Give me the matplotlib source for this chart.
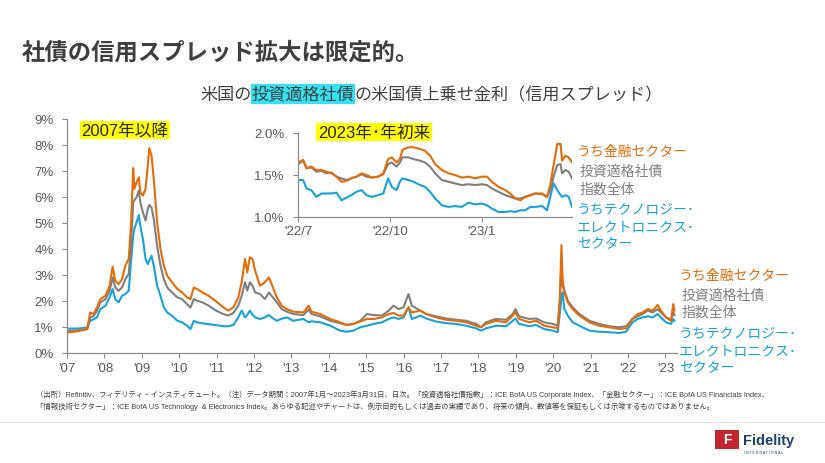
import matplotlib
matplotlib.use('Agg')
import matplotlib.pyplot as plt
from matplotlib.patches import Rectangle
from matplotlib.lines import Line2D

plt.rcParams['font.family'] = ['Liberation Sans', 'Noto Sans CJK JP']

# ---- data: spreads vs US Treasuries (%) ----
years_main = [
    2007.0, 2007.27, 2007.54, 2007.62, 2007.71, 2007.8, 2007.89, 2008.03, 2008.14, 2008.22,
    2008.29, 2008.38, 2008.47, 2008.56, 2008.65, 2008.71, 2008.77, 2008.80, 2008.86, 2008.92,
    2008.96, 2009.03, 2009.1, 2009.16, 2009.2, 2009.26, 2009.32, 2009.41, 2009.5, 2009.59,
    2009.68, 2009.81, 2009.95, 2010.08, 2010.21, 2010.3, 2010.39, 2010.48, 2010.62, 2010.79,
    2011.0, 2011.18, 2011.31, 2011.45, 2011.58, 2011.67, 2011.76, 2011.82, 2011.89, 2011.96,
    2012.03, 2012.16, 2012.29, 2012.4, 2012.47, 2012.61, 2012.74, 2012.88, 2013.05, 2013.32,
    2013.46, 2013.54, 2013.77, 2014.04, 2014.3, 2014.48, 2014.66, 2014.84, 2015.02, 2015.2,
    2015.42, 2015.6, 2015.73, 2015.87, 2016.0, 2016.13, 2016.22, 2016.45,
    2016.6, 2016.87, 2017.13, 2017.4, 2017.67, 2017.94, 2018.07, 2018.2, 2018.47, 2018.74,
    2018.92, 2018.99, 2019.09, 2019.36, 2019.54, 2019.76, 2019.99, 2020.12, 2020.18, 2020.22,
    2020.25, 2020.3, 2020.39, 2020.52, 2020.7, 2020.97, 2021.23, 2021.5, 2021.77, 2021.95,
    2022.12, 2022.26, 2022.39, 2022.53, 2022.66, 2022.79, 2022.88, 2023.02, 2023.15, 2023.21,
    2023.24,
]
financials = [
    0.77, 0.81, 0.9, 1.54, 1.48, 1.73, 2.05, 2.18, 2.57, 3.3,
    2.76, 2.63, 2.82, 3.34, 3.6, 4.88, 7.09, 6.29, 6.55, 6.74,
    6.16, 6.03, 6.29, 7.19, 7.86, 7.57, 6.68, 5.0, 3.98, 3.34,
    2.95, 2.7, 2.44, 2.31, 2.12, 2.05, 2.5, 2.44, 2.31, 2.18,
    1.95, 1.74, 1.61, 1.74, 2.12, 2.70, 3.6, 3.08, 3.66, 3.6,
    3.15, 2.57, 2.70, 2.89, 2.63, 2.12, 1.8, 1.67, 1.57, 1.54,
    1.8, 1.57, 1.48, 1.29, 1.16, 1.06, 1.1, 1.19, 1.29, 1.29,
    1.35, 1.48, 1.52, 1.42, 1.42, 1.74, 1.54, 1.61,
    1.48, 1.35, 1.26, 1.22, 1.16, 1.03, 0.97, 1.1, 1.22, 1.16,
    1.42, 1.54, 1.29, 1.16, 1.22, 1.03, 0.97, 0.93, 2.19, 4.13,
    2.83, 2.31, 1.93, 1.67, 1.42, 1.16, 1.03, 0.97, 0.9, 0.93,
    1.29, 1.48, 1.54, 1.67, 1.61, 1.83, 1.61, 1.35, 1.22, 1.86,
    1.61,
]
ig_index = [
    0.83, 0.85, 0.9, 1.35, 1.4, 1.6, 1.93, 2.05, 2.37, 2.89,
    2.5, 2.37, 2.5, 2.82, 3.02, 4.1, 5.78, 5.85, 5.97, 6.23,
    5.78, 5.39, 5.07, 5.52, 5.67, 5.58, 5.13, 4.1, 3.34, 2.82,
    2.5, 2.31, 2.12, 2.05, 1.86, 1.73, 2.05, 1.99, 1.93, 1.8,
    1.6, 1.48, 1.42, 1.52, 1.8, 2.18, 2.70, 2.38, 2.70, 2.57,
    2.31, 2.25, 2.06, 2.31, 2.18, 1.93, 1.67, 1.57, 1.48, 1.44,
    1.65, 1.48, 1.39, 1.22, 1.13, 1.06, 1.1, 1.22, 1.48, 1.44,
    1.42, 1.61, 1.8, 1.67, 1.74, 2.25, 1.8, 1.61,
    1.48, 1.39, 1.31, 1.26, 1.22, 1.1, 0.97, 1.16, 1.29, 1.26,
    1.48, 1.67, 1.39, 1.29, 1.31, 1.16, 1.1, 1.03, 1.93, 3.5,
    2.57, 2.38, 1.99, 1.74, 1.48, 1.22, 1.1, 1.01, 0.97, 1.01,
    1.29, 1.39, 1.48, 1.61, 1.54, 1.67, 1.54, 1.35, 1.26, 1.54,
    1.44,
]
tech = [
    0.92, 0.92, 0.96, 1.22, 1.28, 1.35, 1.67, 1.8, 2.12, 2.44,
    2.05, 1.93, 2.18, 2.25, 2.37, 3.47, 4.49, 4.75, 5.0, 5.29,
    4.88, 4.36, 3.59, 3.4, 3.53, 3.72, 3.34, 2.57, 2.18, 1.73,
    1.54, 1.41, 1.22, 1.16, 1.03, 0.9, 1.22, 1.16, 1.12, 1.09,
    1.05, 1.01, 1.01, 1.06, 1.35, 1.61, 1.35, 1.45, 1.61, 1.45,
    1.35, 1.29, 1.35, 1.44, 1.35, 1.22, 1.3, 1.35, 1.22, 1.29,
    1.16, 1.2, 1.16, 1.03, 0.84, 0.8, 0.84, 0.97, 1.03, 1.1,
    1.16, 1.29, 1.35, 1.29, 1.35, 1.74, 1.29, 1.42,
    1.31, 1.19, 1.13, 1.1, 1.03, 0.93, 0.84, 0.93, 1.03, 1.01,
    1.22, 1.31, 1.1, 1.01, 1.06, 0.9, 0.84, 0.78, 1.54, 2.1,
    2.31, 1.67, 1.42, 1.16, 1.03, 0.84, 0.8, 0.78, 0.75, 0.8,
    1.16, 1.29, 1.35, 1.39, 1.35, 1.48, 1.35, 1.16, 1.1, 1.29,
    1.22,
]

# inset: 2022/7 - 2023/3
years_inset = [
    2022.500, 2022.514, 2022.523, 2022.536, 2022.550, 2022.564, 2022.577, 2022.591, 2022.605, 2022.618,
    2022.632, 2022.645, 2022.659, 2022.673, 2022.686, 2022.700, 2022.718, 2022.732, 2022.745, 2022.755,
    2022.768, 2022.777, 2022.784, 2022.800, 2022.814, 2022.832, 2022.845, 2022.859, 2022.873, 2022.891,
    2022.909, 2022.927, 2022.945, 2022.964, 2022.982, 2023.000, 2023.014, 2023.027, 2023.045, 2023.064,
    2023.077, 2023.091, 2023.105, 2023.118, 2023.132, 2023.145, 2023.164, 2023.177, 2023.186, 2023.195,
    2023.205, 2023.214, 2023.218, 2023.227, 2023.236, 2023.245,
]
fin_inset = [
    1.65, 1.68, 1.58, 1.6, 1.56, 1.56, 1.54, 1.52, 1.48, 1.42,
    1.43, 1.46, 1.48, 1.52, 1.5, 1.47, 1.48, 1.52, 1.69, 1.71,
    1.65, 1.69, 1.8, 1.83, 1.83, 1.81, 1.79, 1.73, 1.63, 1.56,
    1.52, 1.5, 1.47, 1.48, 1.46, 1.48, 1.48, 1.42, 1.36, 1.32,
    1.28, 1.22, 1.2, 1.24, 1.26, 1.28, 1.28, 1.24, 1.38, 1.62,
    1.87, 1.87, 1.67, 1.73, 1.71, 1.65,
]
ig_inset = [
    1.63, 1.67, 1.58, 1.59, 1.54, 1.55, 1.52, 1.53, 1.48, 1.46,
    1.44, 1.46, 1.48, 1.51, 1.48, 1.47, 1.48, 1.51, 1.63, 1.65,
    1.6, 1.65, 1.71, 1.71, 1.69, 1.67, 1.65, 1.6, 1.52, 1.44,
    1.42, 1.4, 1.38, 1.39, 1.38, 1.39, 1.38, 1.34, 1.3, 1.26,
    1.24, 1.22, 1.22, 1.24, 1.26, 1.28, 1.27, 1.24, 1.32, 1.48,
    1.62, 1.63, 1.52, 1.56, 1.54, 1.46,
]
tech_inset = [
    1.44, 1.44, 1.34, 1.32, 1.24, 1.28, 1.28, 1.28, 1.29, 1.2,
    1.23, 1.26, 1.3, 1.32, 1.26, 1.24, 1.26, 1.28, 1.46, 1.36,
    1.32, 1.42, 1.46, 1.44, 1.42, 1.38, 1.36, 1.3, 1.22, 1.14,
    1.12, 1.13, 1.12, 1.17, 1.15, 1.16, 1.14, 1.1, 1.06, 1.06,
    1.07, 1.06, 1.08, 1.08, 1.12, 1.12, 1.13, 1.08, 1.24, 1.4,
    1.32, 1.26, 1.24, 1.26, 1.24, 1.12,
]

main_ticks = list(range(2007, 2024))
main_ticklabels = ["'%02d" % (y % 100) for y in main_ticks]
inset_ticks = [2022.5, 2022.75, 2023.0]
inset_ticklabels = ["'22/7", "'22/10", "'23/1"]

ORANGE = '#E46C0A'
GRAY = '#7F7F7F'
BLUE = '#17A2DB'
TXT = '#404040'
AX = '#8C8C8C'

W, H = 825, 464


def fx(px):
    return px / W


def fy(py):
    return 1 - py / H


fig = plt.figure(figsize=(8.25, 4.64), dpi=100)
fig.patch.set_facecolor('white')


def style_axes(ax):
    for s in ['top', 'right']:
        ax.spines[s].set_visible(False)
    for s in ['left', 'bottom']:
        ax.spines[s].set_color(AX)
        ax.spines[s].set_linewidth(0.9)
    ax.tick_params(direction='out', length=3.5, width=0.8, color=AX,
                   labelcolor='#595959', labelsize=9.5)
    ax.set_facecolor('none')


# main chart
ax = fig.add_axes([fx(67), fy(353.5), 610 / W, 234 / H])
ax.plot(years_main, tech, color=BLUE, lw=1.5)
ax.plot(years_main, ig_index, color=GRAY, lw=1.5)
ax.plot(years_main, financials, color=ORANGE, lw=1.5)
ax.set_xlim(2007, 2023.31)
ax.set_ylim(0, 9)
ax.set_yticks(range(0, 10))
ax.set_yticklabels(['%d%%' % v for v in range(0, 10)])
ax.set_xticks(main_ticks)
ax.set_xticklabels(main_ticklabels)
style_axes(ax)
ax.tick_params(axis='y', pad=6)
ax.tick_params(axis='x', pad=3)

# inset chart
axi = fig.add_axes([fx(298), fy(218), 274 / W, 84 / H])
axi.plot(years_inset, tech_inset, color=BLUE, lw=1.5)
axi.plot(years_inset, ig_inset, color=GRAY, lw=1.5)
axi.plot(years_inset, fin_inset, color=ORANGE, lw=1.5)
axi.set_xlim(2022.5, 2023.245)
axi.set_ylim(1.0, 2.0)
axi.set_yticks([1.0, 1.5, 2.0])
axi.set_yticklabels(['1.0%', '1.5%', '2.0%'])
axi.set_xticks(inset_ticks)
axi.set_xticklabels(inset_ticklabels)
style_axes(axi)
axi.tick_params(axis='y', pad=6)
axi.tick_params(axis='x', pad=2)

# titles
fig.text(fx(22), fy(53), '社債の信用スプレッド拡大は限定的。', fontsize=16.8,
         fontweight='bold', color='#3F3F3F', va='center', ha='left',
         family=['Noto Sans CJK JP'])

sub_kw = dict(fontsize=12.3, color=TXT, va='center', family=['Noto Sans CJK JP'])
t1 = fig.text(fx(200), fy(95), '米国の', ha='left', **sub_kw)
t2 = ax.annotate('投資適格社債', xy=(1, 0.5), xycoords=t1, ha='left',
                 bbox=dict(boxstyle='square,pad=0.05', fc='#33E3F3', ec='none'),
                 annotation_clip=False, **sub_kw)
ax.annotate('の米国債上乗せ金利（信用スプレッド）', xy=(1, 0.5), xycoords=t2,
            ha='left', annotation_clip=False, **sub_kw)

# period labels
fig.text(fx(125), fy(131), '2007年以降', fontsize=12, color='#262626',
         ha='center', va='center',
         bbox=dict(boxstyle='square,pad=0.1', fc='#FFFF00', ec='none'))
fig.text(fx(374), fy(133), '2023年･年初来', fontsize=12, color='#262626',
         ha='center', va='center',
         bbox=dict(boxstyle='square,pad=0.1', fc='#FFFF00', ec='none'))

# series labels
lab_kw = dict(fontsize=10, va='center', ha='left', family=['Noto Sans CJK JP'])
for x0, rows in [
    (679, [(276, 'うち金融セクター', ORANGE), (296, '投資適格社債', GRAY),
           (313, '指数全体', GRAY), (333, 'うちテクノロジー･', BLUE),
           (351, 'エレクトロニクス･', BLUE), (368, 'セクター', BLUE)]),
    (577, [(152, 'うち金融セクター', ORANGE), (172, '投資適格社債', GRAY),
           (190, '指数全体', GRAY), (209, 'うちテクノロジー･', BLUE),
           (227, 'エレクトロニクス･', BLUE), (244, 'セクター', BLUE)]),
]:
    for yy, s, c in rows:
        xx = x0 + 3 if c == GRAY else x0
        fig.text(fx(xx), fy(yy), s, color=c, **lab_kw)

# footnote
note1 = ('（出所）Refinitiv、フィデリティ・インスティテュート。（注）データ期間：2007年1月～2023年3月31日、日次。'
         '「投資適格社債指数」：ICE BofA US Corporate Index、「金融セクター」：ICE BofA US Financials Index、')
note2 = ('「情報技術セクター」：ICE BofA US Technology  & Electronics Index。あらゆる記述やチャートは、'
         '例示目的もしくは過去の実績であり、将来の傾向、数値等を保証もしくは示唆するものではありません。')
fig.text(fx(36), fy(395), note1, fontsize=5.32, color=TXT, va='center', ha='left')
fig.text(fx(36), fy(407), note2, fontsize=5.32, color=TXT, va='center', ha='left')

# separator and logo
fig.add_artist(Line2D([0, 1], [fy(423), fy(423)], transform=fig.transFigure,
                      color='#E3E3E3', lw=0.8))
fig.add_artist(Rectangle((fx(715), fy(450)), 24 / W, 19 / H, transform=fig.transFigure,
                         fc='#C4262E', ec='none'))
fig.text(fx(727), fy(440.5), 'F', fontsize=10, fontweight='bold', color='white',
         ha='center', va='center')
fig.text(fx(743), fy(441), 'Fidelity', fontsize=10.5, fontweight='bold',
         color='#1F3D70', ha='left', va='center')
fig.text(fx(744), fy(453), 'I N T E R N A T I O N A L', fontsize=2.6,
         color='#1F3D70', ha='left', va='center')

fig.savefig('out.png', dpi=100)
